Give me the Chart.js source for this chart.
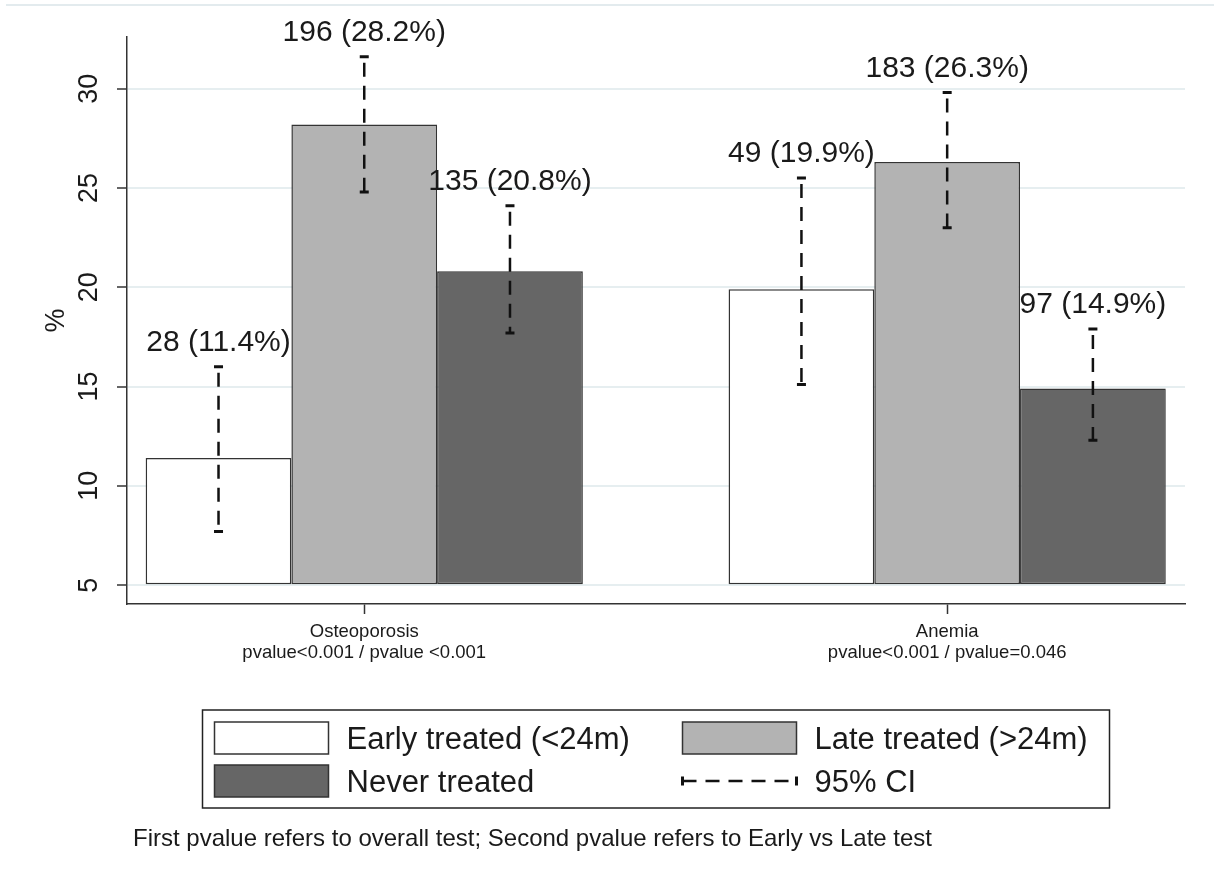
<!DOCTYPE html>
<html>
<head>
<meta charset="utf-8">
<script src="https://cdn.jsdelivr.net/npm/chart.js@4.4.1/dist/chart.umd.min.js"></script>
<style>
  html, body { margin: 0; padding: 0; background: #fff; }
  #wrap { width: 1214px; height: 881px; }
</style>
</head>
<body>
<div id="wrap"><canvas id="chart"></canvas></div>
<script>
// groups on the x axis
const groupNames = ['Osteoporosis', 'Anemia'];
const groupPvalues = ['pvalue<0.001 / pvalue <0.001', 'pvalue<0.001 / pvalue=0.046'];
const groupPositions = [1, 2];

// series (percent, n, 95% CI)
const seriesNames = ['Early treated (<24m)', 'Late treated (>24m)', 'Never treated'];
const earlyPct = [11.4, 19.9];
const latePct = [28.2, 26.3];
const neverPct = [20.8, 14.9];
const earlyN = [28, 49];
const lateN = [196, 183];
const neverN = [135, 97];
const earlyCiLow = [7.7, 15.1];
const earlyCiHigh = [16.0, 25.5];
const lateCiLow = [24.8, 23.0];
const lateCiHigh = [31.6, 29.8];
const neverCiLow = [17.7, 12.3];
const neverCiHigh = [24.1, 17.9];

const yTickValues = [5, 10, 15, 20, 25, 30];
const barBase = 5;
const yTitle = '%';
const ciLabel = '95% CI';
const footNote = 'First pvalue refers to overall test; Second pvalue refers to Early vs Late test';

const fontFamily = '"Liberation Sans", Arial, Helvetica, sans-serif';
const textColor = '#1a1a1a';
const barColors = ['#ffffff', '#b3b3b3', '#666666'];

const series = [
  { pct: earlyPct, n: earlyN, lo: earlyCiLow, hi: earlyCiHigh },
  { pct: latePct, n: lateN, lo: lateCiLow, hi: lateCiHigh },
  { pct: neverPct, n: neverN, lo: neverCiLow, hi: neverCiHigh }
];

// dashed CI whiskers + labels above them
const ciPlugin = {
  id: 'ciBars',
  afterDatasetsDraw(chart) {
    const ctx = chart.ctx;
    const yScale = chart.scales.y;
    ctx.save();
    series.forEach((s, i) => {
      const meta = chart.getDatasetMeta(i);
      meta.data.forEach((bar, j) => {
        const yHi = yScale.getPixelForValue(s.hi[j]);
        const yLo = yScale.getPixelForValue(s.lo[j]);
        ctx.strokeStyle = '#111';
        ctx.lineWidth = 2.5;
        ctx.setLineDash([14, 9]);
        ctx.beginPath();
        ctx.moveTo(bar.x, yHi + 6);
        ctx.lineTo(bar.x, yLo);
        ctx.stroke();
        ctx.setLineDash([]);
        ctx.lineWidth = 3;
        ctx.beginPath();
        ctx.moveTo(bar.x - 4.5, yHi); ctx.lineTo(bar.x + 4.5, yHi);
        ctx.moveTo(bar.x - 4.5, yLo); ctx.lineTo(bar.x + 4.5, yLo);
        ctx.stroke();

        ctx.fillStyle = textColor;
        ctx.font = '30px ' + fontFamily;
        ctx.textAlign = 'center';
        ctx.textBaseline = 'alphabetic';
        ctx.fillText(s.n[j] + ' (' + s.pct[j].toFixed(1) + '%)', bar.x, yHi - 16);
      });
    });
    ctx.restore();
  }
};

// stata-like legend box and footnote
const legendPlugin = {
  id: 'stataLegend',
  beforeDraw(chart) {
    const ctx = chart.ctx;
    ctx.save();
    ctx.strokeStyle = '#e3ebee';
    ctx.lineWidth = 2;
    ctx.beginPath();
    ctx.moveTo(6, 5); ctx.lineTo(chart.width, 5);
    ctx.stroke();
    ctx.restore();
  },
  afterDraw(chart) {
    const ctx = chart.ctx;
    const area = chart.chartArea;
    const boxW = 907, boxH = 98;
    const boxX = (area.left + area.right) / 2 - boxW / 2;
    const boxY = area.bottom + 106;
    ctx.save();
    ctx.fillStyle = '#fff';
    ctx.fillRect(boxX, boxY, boxW, boxH);
    ctx.strokeStyle = '#222';
    ctx.lineWidth = 1.5;
    ctx.strokeRect(boxX, boxY, boxW, boxH);

    const cols = [boxX + 12, boxX + 480];
    const rows = [boxY + 28, boxY + 71];
    const items = [
      { label: seriesNames[0], color: barColors[0] },
      { label: seriesNames[1], color: barColors[1] },
      { label: seriesNames[2], color: barColors[2] },
      { label: ciLabel, ci: true }
    ];
    ctx.font = '31px ' + fontFamily;
    ctx.textBaseline = 'middle';
    ctx.textAlign = 'left';
    items.forEach((it, k) => {
      const x = cols[k % 2];
      const y = rows[Math.floor(k / 2)];
      if (it.ci) {
        ctx.strokeStyle = '#111';
        ctx.lineWidth = 2.5;
        ctx.setLineDash([14, 9]);
        ctx.beginPath();
        ctx.moveTo(x, y); ctx.lineTo(x + 114, y);
        ctx.stroke();
        ctx.setLineDash([]);
        ctx.lineWidth = 3;
        ctx.beginPath();
        ctx.moveTo(x, y - 4.5); ctx.lineTo(x, y + 4.5);
        ctx.moveTo(x + 114, y - 4.5); ctx.lineTo(x + 114, y + 4.5);
        ctx.stroke();
      } else {
        ctx.fillStyle = it.color;
        ctx.fillRect(x, y - 16, 114, 32);
        ctx.strokeStyle = '#333';
        ctx.lineWidth = 1.5;
        ctx.strokeRect(x, y - 16, 114, 32);
      }
      ctx.fillStyle = textColor;
      ctx.fillText(it.label, x + 132, y + 2);
    });

    ctx.font = '24px ' + fontFamily;
    ctx.textBaseline = 'alphabetic';
    ctx.fillText(footNote, area.left + 6, boxY + 136);
    ctx.restore();
  }
};

const datasets = series.map((s, i) => ({
  label: seriesNames[i],
  data: groupPositions.map((x, j) => ({ x: x, y: s.pct[j] })),
  base: barBase,
  backgroundColor: barColors[i],
  borderColor: '#333',
  borderWidth: 1.5,
  borderSkipped: false,
  categoryPercentage: 0.75,
  barPercentage: 1.0
}));

new Chart(document.getElementById('chart'), {
  type: 'bar',
  data: { datasets: datasets },
  options: {
    responsive: true,
    maintainAspectRatio: false,
    animation: false,
    layout: { padding: { top: 37, right: 29, left: 0, bottom: 0 } },
    plugins: {
      legend: { display: false },
      tooltip: { enabled: false }
    },
    scales: {
      x: {
        type: 'linear',
        min: 0.593,
        max: 2.408,
        offset: false,
        afterBuildTicks: (scale) => {
          scale.ticks = groupPositions.map(v => ({ value: v }));
        },
        afterFit: (scale) => { scale.height = 277; },
        grid: {
          offset: false,
          drawOnChartArea: false,
          drawTicks: true,
          tickLength: 10,
          tickColor: '#333',
          tickWidth: 1.5
        },
        border: { display: true, color: '#333', width: 1.5 },
        ticks: {
          autoSkip: false,
          maxRotation: 0,
          padding: 8,
          color: textColor,
          font: { family: fontFamily, size: 18.5, lineHeight: 1.1 },
          callback: (value, index) => [groupNames[index], groupPvalues[index]]
        }
      },
      y: {
        min: 4.05,
        max: 32.6,
        afterBuildTicks: (scale) => {
          scale.ticks = yTickValues.map(v => ({ value: v }));
        },
        afterFit: (scale) => { scale.width = 127; },
        grid: {
          color: '#e6eef0',
          lineWidth: 2,
          drawTicks: true,
          tickLength: 10,
          tickColor: '#333',
          tickWidth: 1.5
        },
        border: { display: true, color: '#333', width: 1.5 },
        ticks: {
          minRotation: 90,
          maxRotation: 90,
          crossAlign: 'center',
          padding: 12,
          color: textColor,
          font: { family: fontFamily, size: 27 }
        },
        title: {
          display: true,
          text: yTitle,
          color: textColor,
          padding: { top: 40 },
          font: { family: fontFamily, size: 27 }
        }
      }
    }
  },
  plugins: [ciPlugin, legendPlugin]
});
</script>
</body>
</html>
